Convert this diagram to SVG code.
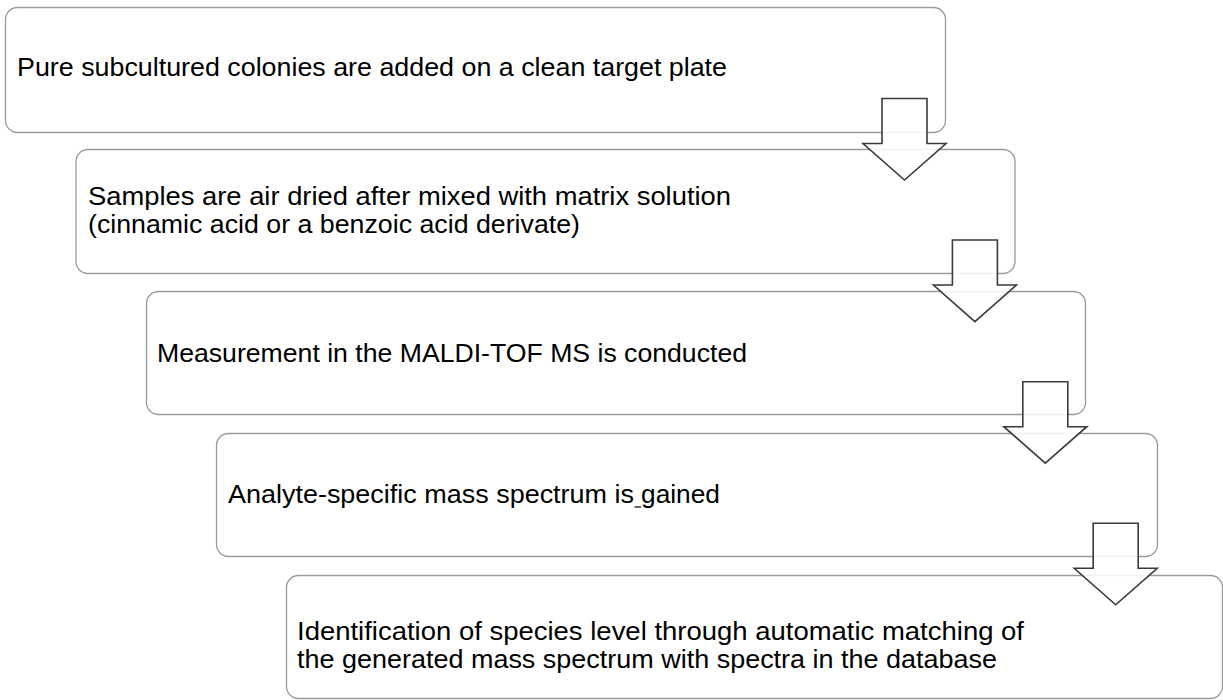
<svg xmlns="http://www.w3.org/2000/svg" width="1223" height="700" viewBox="0 0 1223 700">
<style>
.box{fill:#fff;stroke:#9a9a9a;stroke-width:1.3}
.arr{fill:#fff;fill-opacity:0.88;stroke:#3a3a3a;stroke-width:1.6;stroke-linejoin:miter}
.t{font-family:"Liberation Sans",Arial,sans-serif;font-size:25px;fill:#000}
</style>
<rect width="1223" height="700" fill="#fff"/>
<g id="step1"><rect class="box" x="5.5" y="7.5" width="940" height="125" rx="12"/>
<text class="t" x="17" y="76" textLength="710" lengthAdjust="spacingAndGlyphs">Pure subcultured colonies are added on a clean target plate</text></g>
<g id="step2"><rect class="box" x="76" y="149.5" width="939" height="124" rx="12"/>
<text class="t"><tspan x="88" y="205" textLength="643" lengthAdjust="spacingAndGlyphs">Samples are air dried after mixed with matrix solution</tspan><tspan x="88" y="233" textLength="492" lengthAdjust="spacingAndGlyphs">(cinnamic acid or a benzoic acid derivate)</tspan></text></g>
<g id="step3"><rect class="box" x="146.5" y="291.5" width="939" height="123" rx="12"/>
<text class="t" x="157" y="362" textLength="590" lengthAdjust="spacingAndGlyphs">Measurement in the MALDI-TOF MS is conducted</text></g>
<g id="step4"><rect class="box" x="216.5" y="433.5" width="941" height="123" rx="12"/>
<text class="t" y="503"><tspan x="228" textLength="406" lengthAdjust="spacingAndGlyphs">Analyte-specific mass spectrum is</tspan><tspan x="641" textLength="79" lengthAdjust="spacingAndGlyphs">gained</tspan></text>
<line x1="634.5" y1="507" x2="641" y2="507" stroke="#000" stroke-width="1.2"/></g>
<g id="step5"><rect class="box" x="286.5" y="575.5" width="936" height="123" rx="12"/>
<text class="t"><tspan x="297" y="640" textLength="727" lengthAdjust="spacingAndGlyphs">Identification of species level through automatic matching of</tspan><tspan x="297" y="668" textLength="700" lengthAdjust="spacingAndGlyphs">the generated mass spectrum with spectra in the database</tspan></text></g>
<g id="connectors">
<path class="arr" d="M882 98.5 H927 V143.5 H946 L904.5 180 L863 143.5 H882 Z"/>
<path class="arr" d="M952.4 240 H997.4 V285 H1016.4 L974.9 321.6 L933.4 285 H952.4 Z"/>
<path class="arr" d="M1022.8 381.7 H1067.8 V426.7 H1086.8 L1045.3 463.2 L1003.8 426.7 H1022.8 Z"/>
<path class="arr" d="M1093.2 523.3 H1138.2 V568.3 H1157.2 L1115.7 604.8 L1074.2 568.3 H1093.2 Z"/>
</g>
</svg>
